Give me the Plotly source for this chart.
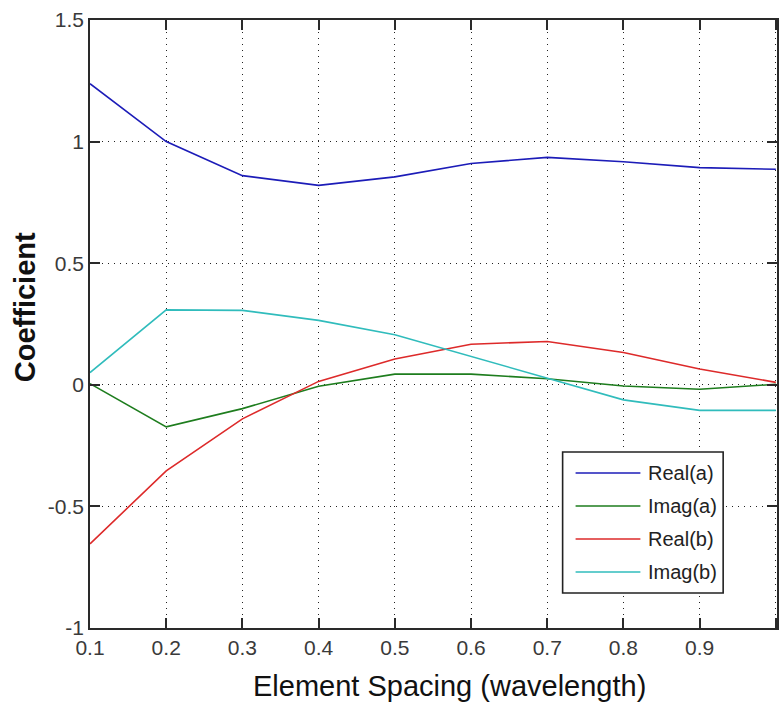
import plotly.graph_objects as go

spacing = [0.1, 0.2, 0.3, 0.4, 0.5, 0.6, 0.7, 0.8, 0.9, 1.0]
real_a = [1.238, 1.000, 0.860, 0.820, 0.855, 0.910, 0.935, 0.917, 0.893, 0.886]
imag_a = [0.005, -0.173, -0.098, -0.006, 0.044, 0.044, 0.025, -0.005, -0.018, 0.002]
real_b = [-0.654, -0.354, -0.140, 0.014, 0.106, 0.167, 0.178, 0.133, 0.065, 0.010]
imag_b = [0.050, 0.308, 0.306, 0.265, 0.206, 0.117, 0.026, -0.062, -0.105, -0.105]

series_names = ["Real(a)", "Imag(a)", "Real(b)", "Imag(b)"]
series_colors = ["#1c1cb8", "#1e7d1e", "#dd2a2a", "#30bcbc"]

x_tickvals = [0.1, 0.2, 0.3, 0.4, 0.5, 0.6, 0.7, 0.8, 0.9, 1.0]
x_ticktext = ["0.1", "0.2", "0.3", "0.4", "0.5", "0.6", "0.7", "0.8", "0.9", "1"]
y_tickvals = [-1, -0.5, 0, 0.5, 1, 1.5]
y_ticktext = ["-1", "-0.5", "0", "0.5", "1", "1.5"]

W, H = 779, 706
L, R, T, B = 90, 0, 20, 78
pw, ph = W - L - R, H - T - B

def px_x(p):
    return (p - L) / pw

def px_y(p):
    return (H - B - p) / ph

fig = go.Figure()
for name, ys, col in zip(series_names, [real_a, imag_a, real_b, imag_b], series_colors):
    fig.add_trace(go.Scatter(x=spacing, y=ys, mode="lines", name=name,
                             line=dict(color=col, width=1.6), showlegend=False))

narrow = "Liberation Sans Narrow, Arial Narrow, Liberation Sans, Arial"
tick_font = dict(family=narrow, size=21, color="#3a3a3a")
axis_common = dict(showline=True, linecolor="#2a2a2a", linewidth=1.6, mirror="ticks",
                   ticks="inside", ticklen=10, tickwidth=1.6, tickcolor="#2a2a2a",
                   showgrid=True, gridcolor="#222222", gridwidth=1, griddash="1px,5px",
                   zeroline=False, tickfont=tick_font)

fig.update_xaxes(range=[0.1, 1.0015], tickvals=x_tickvals, ticktext=x_ticktext, **axis_common)
fig.update_yaxes(range=[-1, 1.5], tickvals=y_tickvals, ticktext=y_ticktext, **axis_common)

shapes = []
annotations = []
# legend box
shapes.append(dict(type="rect", xref="paper", yref="paper",
                   x0=px_x(564), x1=px_x(725), y0=px_y(593), y1=px_y(452),
                   line=dict(color="#222222", width=1.6), fillcolor="white", layer="above"))
leg_y = [473, 506, 539, 572]
for name, col, yy in zip(series_names, series_colors, leg_y):
    shapes.append(dict(type="line", xref="paper", yref="paper",
                       x0=px_x(577), x1=px_x(642), y0=px_y(yy), y1=px_y(yy),
                       line=dict(color=col, width=1.6), layer="above"))
    annotations.append(dict(text=name, xref="paper", yref="paper", x=px_x(648), y=px_y(yy),
                            xanchor="left", yanchor="middle", showarrow=False,
                            font=dict(family=narrow, size=20, color="#222222")))

annotations.append(dict(text="Element Spacing (wavelength)", xref="paper", yref="paper",
                        x=px_x(451), y=px_y(686), xanchor="center", yanchor="middle",
                        showarrow=False,
                        font=dict(family="Liberation Sans, Arial", size=29, color="#111111")))
annotations.append(dict(text="<b>Coefficient</b>", xref="paper", yref="paper",
                        x=px_x(25), y=px_y(307), xanchor="center", yanchor="middle",
                        textangle=-90, showarrow=False,
                        font=dict(family="Liberation Sans, Arial", size=29, color="#111111")))

fig.update_layout(width=W, height=H, margin=dict(l=L, r=R, t=T, b=B, pad=0),
                  paper_bgcolor="white", plot_bgcolor="white",
                  shapes=shapes, annotations=annotations, showlegend=False)

fig.write_html("out.html")
